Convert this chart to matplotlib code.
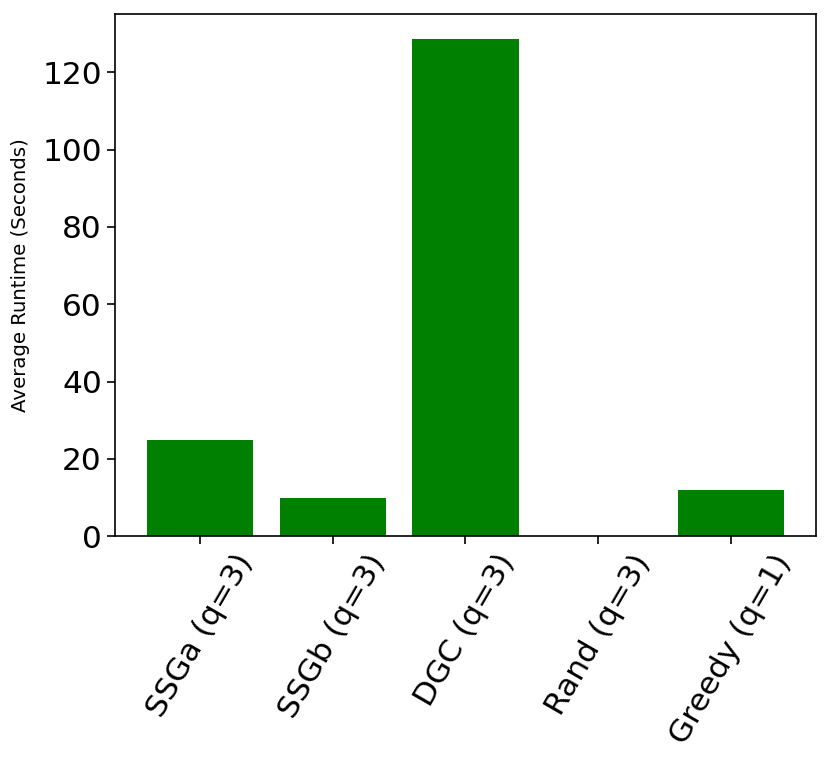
import matplotlib
matplotlib.use('Agg')
import matplotlib.pyplot as plt

# runtimes
methods = ['SSGa (q=3)', 'SSGb (q=3)', 'DGC (q=3)', 'Rand (q=3)', 'Greedy (q=1)']
runtimes = [24.8, 9.8, 128.7, 0.05, 11.8]

fig = plt.figure(figsize=(8.3, 7.65), dpi=100)
fig.subplots_adjust(left=0.1386, right=0.983, top=0.9817, bottom=0.2993)
ax = fig.add_subplot(111)

ax.bar(range(len(methods)), runtimes, width=0.8, color='green')
ax.set_xticks(range(len(methods)))
ax.set_xticklabels(methods, rotation=60, ha='center', fontsize=22.5)
ax.tick_params(axis='y', labelsize=22.5)
ax.tick_params(length=6, width=1.2)
for s in ax.spines.values():
    s.set_linewidth(1.2)
ax.set_ylabel('Average Runtime (Seconds)', fontsize=14.2, labelpad=9)

fig.savefig('out.png', dpi=100)
